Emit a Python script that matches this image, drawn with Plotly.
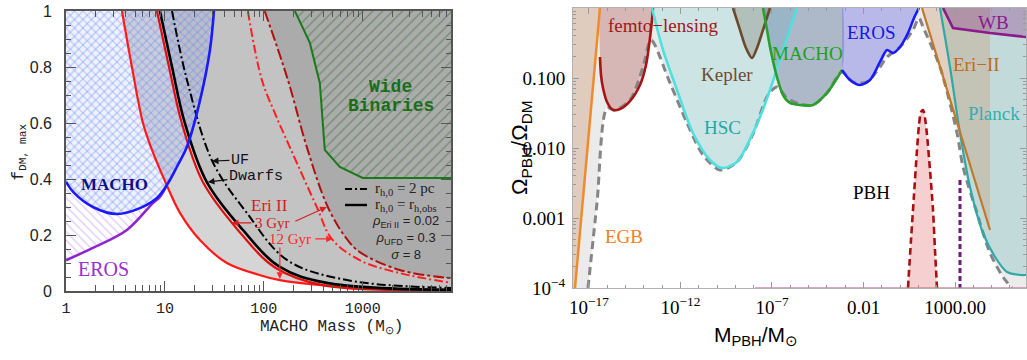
import numpy as np
import plotly.graph_objects as go

W, H = 1027, 360

# ---------------------------------------------------------------------------
# Left panel: maximum dark-matter fraction in MACHOs versus MACHO mass (M_sun)
# ---------------------------------------------------------------------------
L_MMIN, L_MMAX = 1.0, 7800.0

# Eri II, 12 Gyr, r_h,0 = r_h,obs (solid red, outermost)
eri12_obs_m = [3.68, 4.64, 6.0, 7.4, 10.2, 14.2, 22.6, 42.3, 91, 145, 934, 7800]
eri12_obs_f = [1.0, 0.8, 0.6, 0.504, 0.386, 0.279, 0.182, 0.10, 0.057, 0.039, 0.011, 0.004]
# Eri II, 3 Gyr, r_h,0 = r_h,obs (solid red next to the dwarfs curve)
eri3_obs_m = [8.3, 11.0, 14.8, 24.2, 54.6, 132, 394, 7800]
eri3_obs_f = [1.0, 0.8, 0.6, 0.389, 0.218, 0.082, 0.021, 0.004]
# Ultra-faint dwarfs, r_h,0 = r_h,obs (solid black)
uf_obs_m = [8.9, 11.8, 15.9, 26.5, 61.4, 145, 433, 7800]
uf_obs_f = [1.0, 0.8, 0.6, 0.389, 0.218, 0.086, 0.029, 0.004]
# Ultra-faint dwarfs, r_h,0 = 2 pc (dash-dot black)
uf_2pc_m = [11.8, 16.7, 30.5, 67.3, 171, 689, 7800]
uf_2pc_f = [1.0, 0.754, 0.46, 0.279, 0.111, 0.039, 0.011]
# Eri II, 12 Gyr, r_h,0 = 2 pc (dash-dot red)
eri12_2pc_m = [68.9, 95.5, 129, 183, 343, 486, 933, 2365, 7800]
eri12_2pc_f = [1.0, 0.754, 0.636, 0.514, 0.30, 0.186, 0.11, 0.064, 0.029]
# Eri II, 3 Gyr, r_h,0 = 2 pc (dashed dark red)
eri3_2pc_m = [102, 175, 272, 443, 689, 933, 2365, 7800]
eri3_2pc_f = [1.0, 0.754, 0.514, 0.30, 0.186, 0.139, 0.075, 0.046]
# Microlensing limits
macho_m = [1.0, 1.18, 1.87, 3.27, 5.59, 8.3, 10.5, 13.5, 16.7, 22.6, 28.5, 31.3]
macho_f = [0.39, 0.354, 0.30, 0.275, 0.296, 0.332, 0.379, 0.45, 0.515, 0.68, 0.86, 1.0]
eros_m = [1.0, 1.87, 4.13, 7.56, 8.9, 10.5]
eros_f = [0.11, 0.154, 0.218, 0.314, 0.336, 0.379]
# Wide binaries
wb_m = [206, 292, 368, 413, 586, 1000, 7800]
wb_f = [1.0, 0.886, 0.743, 0.504, 0.443, 0.404, 0.404]

# ---------------------------------------------------------------------------
# Right panel: Omega_PBH / Omega_DM versus M_PBH / M_sun (log10 values)
# ---------------------------------------------------------------------------
R_LM_MIN, R_LM_MAX = -17.874, 6.88
R_LO_MIN, R_LO_MAX = -4.0, 0.0

egb_lm = [-17.765, -16.399]
egb_lo = [-4.0, 0.0]

env_lm = [-17.055, -16.563, -16.016, -15.579, -14.760, -14.049, -13.612, -12.574, -11.645,
          -10.770, -9.842, -8.913, -8.038, -7.219, -6.727, -6.180, -5.470, -4.760, -3.995,
          -3.175, -2.574, -1.809, -1.098, -0.716, -0.005, 0.705, 1.033, 1.251, 2.180, 3.109,
          3.437, 4.202, 4.913, 5.623, 6.115]
env_lo = [-4.0, -2.786, -1.429, -1.457, -1.314, -0.843, -0.457, -1.071, -1.643,
          -2.100, -2.314, -2.200, -1.800, -1.243, -1.129, -1.286, -1.371, -1.386, -1.214,
          -0.914, -1.057, -1.057, -0.843, -0.700, -0.557, -0.314, -0.143, -0.271, -0.843, -1.786,
          -2.271, -2.929, -3.500, -3.843, -4.0]

femto_lm = [-16.399, -16.344, -16.235, -16.016, -15.689, -15.306, -14.760, -14.213, -13.885,
            -13.667, -13.557, -13.503]
femto_lo = [-0.700, -0.957, -1.143, -1.343, -1.457, -1.443, -1.329, -1.100, -0.814,
            -0.429, -0.171, 0.0]

hsc_lm = [-13.557, -12.956, -12.191, -11.317, -10.388, -9.732, -8.913, -8.038, -7.656,
          -7.109, -6.399, -5.634]
hsc_lo = [0.0, -0.6, -1.171, -1.786, -2.171, -2.286, -2.2, -1.786, -1.557, -1.171, -0.6, 0.0]

kepler_lm = [-9.131, -8.749, -8.421, -8.093, -7.820, -7.492, -7.109]
kepler_lo = [0.0, -0.314, -0.571, -0.714, -0.571, -0.314, 0.0]

macho_r_lm = [-7.492, -7.273, -7.109, -6.727, -6.399, -6.016, -5.470, -4.760, -3.995, -3.175]
macho_r_lo = [0.0, -0.314, -0.557, -0.986, -1.243, -1.357, -1.386, -1.386, -1.214, -0.886]

eros_r_lm = [-3.175, -2.738, -2.191, -1.645, -1.098, -0.716, -0.388, -0.005, 0.432, 0.760, 1.033]
eros_r_lo = [-0.886, -1.029, -1.100, -1.029, -0.771, -0.600, -0.643, -0.557, -0.357, -0.143, 0.0]

eri_r_lm = [1.197, 4.913]
eri_r_lo = [0.0, -3.171]

planck_lm = [2.180, 2.727, 3.273, 3.820, 4.530, 5.295, 5.842, 6.552, 6.88]
planck_lo = [0.0, -0.843, -1.786, -2.557, -3.214, -3.600, -3.771, -3.814, -3.814]

wb_r_lm = [2.344, 2.617, 2.891, 4.913, 6.88]
wb_r_lo = [0.0, -0.143, -0.286, -0.357, -0.414]

pbh_lm = [0.432, 0.596, 0.760, 0.923, 1.033, 1.142, 1.251, 1.361, 1.470, 1.634, 1.798, 1.907, 2.016]
pbh_lo = [-4.0, -3.314, -2.671, -2.029, -1.671, -1.486, -1.457, -1.571, -1.814, -2.314, -2.886,
          -3.457, -4.0]

narrow_lm = [3.273, 3.273]
narrow_lo = [-2.457, -4.0]

floor_lm = [-7.93, 6.88]
floor_lo = [-4.0, -4.0]


def p10(v):
    return list(10.0 ** np.asarray(v, dtype=float))


fig = go.Figure()


def add_fill(xs, ys, color, xa, ya, shape="spline", pattern=None, smoothing=1.0):
    kw = dict(x=xs, y=ys, mode="lines", fill="toself", fillcolor=color,
              line=dict(width=0, shape=shape, smoothing=smoothing),
              xaxis=xa, yaxis=ya, hoverinfo="skip", showlegend=False)
    if pattern is not None:
        kw["fillpattern"] = pattern
    fig.add_trace(go.Scatter(**kw))


def add_line(xs, ys, color, width, xa, ya, dash=None, shape="spline", smoothing=1.0):
    fig.add_trace(go.Scatter(x=xs, y=ys, mode="lines",
                             line=dict(color=color, width=width, dash=dash, shape=shape,
                                       smoothing=smoothing),
                             xaxis=xa, yaxis=ya, hoverinfo="skip", showlegend=False))


FAR = 3e4     # closure points beyond the visible mass range
TOP = 1.5     # closure points above the visible f range

# --- left: shaded exclusion regions (light to dark grey)
add_fill(eri12_obs_m + [FAR, FAR, eri12_obs_m[0]], eri12_obs_f + [eri12_obs_f[-1], TOP, TOP],
         "#d5d5d5", "x", "y")
add_fill(uf_obs_m + [FAR, FAR, uf_obs_m[0]], uf_obs_f + [uf_obs_f[-1], TOP, TOP],
         "#c3c3c3", "x", "y")
add_fill(eri3_2pc_m + [FAR, FAR, eri3_2pc_m[0]], eri3_2pc_f + [eri3_2pc_f[-1], TOP, TOP],
         "#ababab", "x", "y")
# wide binaries (hatched)
add_fill(wb_m + [FAR, FAR, 180], wb_f + [wb_f[-1], TOP, TOP], "rgba(0,0,0,0)", "x", "y",
         shape="linear",
         pattern=dict(shape="/", fgcolor="rgba(25,100,25,0.85)", bgcolor="rgba(0,0,0,0)",
                      size=7, solidity=0.18))
# EROS (hatched) and MACHO (cross-hatched)
add_fill([0.8] + eros_m + macho_m[7:] + [45, 0.8], [0.09] + eros_f + macho_f[7:] + [TOP, TOP],
         "rgba(0,0,0,0)", "x", "y",
         pattern=dict(shape="\\", fgcolor="rgba(170,100,230,0.7)", bgcolor="rgba(0,0,0,0)",
                      size=6, solidity=0.22))
add_fill([0.8] + macho_m + [45, 0.8], [0.43] + macho_f + [TOP, TOP],
         "rgba(0,0,0,0)", "x", "y",
         pattern=dict(shape="/", fgcolor="rgba(70,140,255,0.75)",
                      bgcolor="rgba(110,160,255,0.12)", size=6, solidity=0.22))

# --- left: boundary curves
add_line(eri12_obs_m, eri12_obs_f, "#ff1a1a", 2.2, "x", "y")
add_line(eri3_obs_m, eri3_obs_f, "#e01010", 2.2, "x", "y")
add_line(uf_obs_m, uf_obs_f, "#000000", 2.6, "x", "y")
add_line(uf_2pc_m, uf_2pc_f, "#000000", 2.0, "x", "y", dash="9px,3px,2px,3px")
add_line(eri12_2pc_m, eri12_2pc_f, "#ff2020", 2.0, "x", "y", dash="9px,3px,2px,3px")
add_line(eri3_2pc_m, eri3_2pc_f, "#b01010", 2.0, "x", "y", dash="11px,3px,3px,3px")
add_line(eros_m, eros_f, "#8f25d0", 2.6, "x", "y")
add_line(macho_m, macho_f, "#1a1aff", 2.6, "x", "y")
add_line(wb_m, wb_f, "#1a7a1a", 2.0, "x", "y", shape="linear")

# --- right: combined bound region, then individual constraints
RX0, RX1, RYT, RYB = -18.5, 7.5, 0.3, -4.3
add_fill(p10(env_lm + [RX1, RX1, RX0, RX0]), p10(env_lo + [RYB, RYT, RYT, RYB]),
         "#ebebeb", "x2", "y2", smoothing=0.8)
add_fill(p10(egb_lm + [-16.3, RX0, RX0, -17.8]), p10(egb_lo + [RYT, RYT, RYB, RYB]),
         "rgba(200,130,90,0.30)", "x2", "y2", shape="linear")
add_fill(p10(planck_lm + [RX1, RX1, planck_lm[0]]), p10(planck_lo + [planck_lo[-1], RYT, RYT]),
         "rgba(120,185,185,0.35)", "x2", "y2", smoothing=0.8)
add_fill(p10(eri_r_lm + [eri_r_lm[-1]]), p10(eri_r_lo + [0.0]),
         "rgba(200,140,90,0.28)", "x2", "y2", shape="linear")
add_fill(p10(wb_r_lm + [RX1, RX1, wb_r_lm[0]]), p10(wb_r_lo + [wb_r_lo[-1], RYT, RYT]),
         "rgba(140,50,140,0.33)", "x2", "y2", shape="linear")
add_fill(p10(hsc_lm), p10(hsc_lo), "rgba(140,215,215,0.32)", "x2", "y2", smoothing=0.8)
add_fill(p10(kepler_lm), p10(kepler_lo), "rgba(95,85,60,0.25)", "x2", "y2", smoothing=0.8)
add_fill(p10(macho_r_lm + [macho_r_lm[-1]]), p10(macho_r_lo + [RYT]),
         "rgba(80,110,150,0.40)", "x2", "y2", smoothing=0.8)
add_fill(p10(eros_r_lm + [1.3, eros_r_lm[0]]), p10(eros_r_lo + [RYT, RYT]),
         "rgba(110,110,230,0.40)", "x2", "y2", smoothing=0.8)
add_fill(p10(femto_lm + [-16.5]), p10(femto_lo + [RYT]),
         "rgba(170,60,60,0.30)", "x2", "y2", smoothing=0.8)
add_fill(p10(pbh_lm), p10(pbh_lo), "rgba(230,120,120,0.35)", "x2", "y2", smoothing=0.8)

add_line(p10(env_lm), p10(env_lo), "#858585", 3.0, "x2", "y2", dash="8px,5px", smoothing=0.8)
add_line(p10(egb_lm), p10(egb_lo), "#f08a2a", 2.5, "x2", "y2", shape="linear")
add_line(p10(femto_lm), p10(femto_lo), "#a51515", 2.6, "x2", "y2", smoothing=0.8)
add_line(p10(hsc_lm), p10(hsc_lo), "#4fe0e0", 2.6, "x2", "y2", smoothing=0.8)
add_line(p10(kepler_lm), p10(kepler_lo), "#6b4a2e", 2.6, "x2", "y2", smoothing=0.8)
add_line(p10(macho_r_lm), p10(macho_r_lo), "#2aa02a", 2.6, "x2", "y2", smoothing=0.8)
add_line(p10(eros_r_lm), p10(eros_r_lo), "#1a1aff", 2.6, "x2", "y2", smoothing=0.8)
add_line(p10(planck_lm), p10(planck_lo), "#30a8a8", 2.2, "x2", "y2", smoothing=0.8)
add_line(p10(eri_r_lm), p10(eri_r_lo), "#c0782a", 2.2, "x2", "y2", shape="linear")
add_line(p10(wb_r_lm), p10(wb_r_lo), "#8b1a8b", 2.6, "x2", "y2", shape="linear")
add_line(p10(pbh_lm), p10(pbh_lo), "#aa1010", 2.6, "x2", "y2", dash="7px,4px", smoothing=0.8)
add_line(p10(narrow_lm), p10(narrow_lo), "#6a1a7a", 3.0, "x2", "y2", dash="5px,3px",
         shape="linear")
add_line(p10(floor_lm), p10(floor_lo), "rgba(205,130,150,0.9)", 1.5, "x2", "y2", shape="linear")

# ---------------------------------------------------------------------------
# Axes
# ---------------------------------------------------------------------------
LEFT_DOM_X = [66 / W, 451 / W]
LEFT_DOM_Y = [1 - 291 / H, 1 - 11 / H]
RIGHT_DOM_X = [573 / W, 1026 / W]
RIGHT_DOM_Y = [1 - 288 / H, 1 - 8 / H]

left_minor_x = [k * 10 ** d for d in range(0, 4) for k in range(2, 10) if k * 10 ** d < L_MMAX]
right_minor_y = [k * 10.0 ** d for d in range(-4, 0) for k in range(2, 10)]
right_minor_x = [10.0 ** d for d in range(-17, 7)]

fig.update_layout(
    width=W, height=H, margin=dict(l=0, r=0, t=0, b=0, autoexpand=False),
    paper_bgcolor="white", plot_bgcolor="white", showlegend=False,
    xaxis=dict(domain=LEFT_DOM_X, type="log", range=[np.log10(L_MMIN), np.log10(L_MMAX)],
               tickvals=[1, 10, 100, 1000], ticktext=["1", "10", "100", "1000"],
               ticks="inside", ticklen=10, tickwidth=1, tickcolor="#555",
               minor=dict(tickvals=left_minor_x, ticks="inside", ticklen=6, tickcolor="#555"),
               showline=True, linecolor="#555", linewidth=1.6, mirror="allticks",
               showgrid=False, zeroline=False, ticklabelstandoff=2, automargin=False,
               tickfont=dict(family="Liberation Mono", size=15, color="#222"), anchor="y"),
    yaxis=dict(domain=LEFT_DOM_Y, range=[0, 1], tickvals=[0, 0.2, 0.4, 0.6, 0.8, 1.0],
               ticktext=["0", "0.2", "0.4", "0.6", "0.8", "1"],
               ticks="inside", ticklen=10, tickwidth=1, tickcolor="#555",
               minor=dict(dtick=0.05, ticks="inside", ticklen=5, tickcolor="#555"),
               showline=True, linecolor="#555", linewidth=1.6, mirror="allticks",
               showgrid=False, zeroline=False, ticklabelstandoff=9, automargin=False,
               tickfont=dict(family="Liberation Sans", size=16, color="#222"), anchor="x"),
    xaxis2=dict(domain=RIGHT_DOM_X, type="log", range=[R_LM_MIN, R_LM_MAX],
                tickvals=[1e-17, 1e-12, 1e-7, 1e-2, 1e3],
                ticktext=["10<sup>\u221217</sup>", "10<sup>\u221212</sup>", "10<sup>\u22127</sup>",
                          "0.01", "1000.00"],
                ticks="inside", ticklen=6, tickwidth=1, tickcolor="#9a9a9a",
                minor=dict(tickvals=right_minor_x, ticks="inside", ticklen=3, tickcolor="#9a9a9a"),
                showline=True, linecolor="#b0b0b0", linewidth=1, mirror="allticks",
                showgrid=False, zeroline=False, ticklabelstandoff=2, automargin=False,
                tickfont=dict(family="Liberation Serif", size=19, color="#000"), anchor="y2"),
    yaxis2=dict(domain=RIGHT_DOM_Y, type="log", range=[R_LO_MIN, R_LO_MAX],
                tickvals=[1e-4, 1e-3, 1e-2, 1e-1, 1],
                ticktext=["10<sup>\u22124</sup>", "0.001", "0.010", "0.100", "1"],
                ticks="inside", ticklen=6, tickwidth=1, tickcolor="#9a9a9a",
                minor=dict(tickvals=right_minor_y, ticks="inside", ticklen=3, tickcolor="#9a9a9a"),
                showline=True, linecolor="#b0b0b0", linewidth=1, mirror="allticks",
                showgrid=False, zeroline=False, ticklabelstandoff=3, automargin=False,
                tickfont=dict(family="Liberation Serif", size=19, color="#000"), anchor="x2"),
)

# ---------------------------------------------------------------------------
# Text
# ---------------------------------------------------------------------------
SERIF = "Liberation Serif"
MONO = "Liberation Mono"
SANS = "Liberation Sans"
ann = []


def txt(x, y, s, color, size, family, xref, yref, **kw):
    d = dict(x=x, y=y, text=s, showarrow=False, xref=xref, yref=yref,
             font=dict(family=family, size=size, color=color))
    d.update(kw)
    ann.append(d)


def arrow(x, y, ax, ay, color, xref="x", yref="y", s="", size=15, family=MONO):
    ann.append(dict(x=x, y=y, ax=ax, ay=ay, text=s, showarrow=True, arrowhead=2,
                    arrowsize=1.1, arrowwidth=1.2, arrowcolor=color, xref=xref, yref=yref,
                    font=dict(family=family, size=size, color=color)))


# axis titles
txt(7 / W, 1 - 152 / H, "f<sub>DM, max</sub>", "#222", 16, MONO, "paper", "paper", textangle=-90)
txt(258 / W, 1 - 339 / H, "MACHO Mass (M<sub>\u2299</sub>)", "#222", 16, MONO, "paper", "paper")
txt(521 / W, 1 - 148 / H, "\u03a9<sub>PBH</sub>/\u03a9<sub>DM</sub>", "#000", 22, SANS,
    "paper", "paper", textangle=-90)
txt(800 / W, 1 - 351 / H, "M<sub>PBH</sub>/M<sub>\u2299</sub>", "#000", 21, SANS, "paper", "paper")

# left panel labels (x in log10 mass)
txt(0.495, 0.379, "<b>MACHO</b>", "#10108a", 17, SERIF, "x", "y")
txt(0.384, 0.079, "EROS", "#9a30d0", 20, SERIF, "x", "y")
txt(3.283, 0.729, "<b>Wide</b>", "#1a6e1a", 18, MONO, "x", "y")
txt(3.283, 0.661, "<b>Binaries</b>", "#1a6e1a", 18, MONO, "x", "y")
arrow(1.475, 0.464, 28, -1, "#111", s="UF", size=15)
arrow(1.434, 0.389, 48, -6, "#111", s="Dwarfs", size=15)
txt(2.061, 0.305, "Eri II", "#d42020", 17, SERIF, "x", "y")
txt(2.091, 0.243, "3 Gyr", "#d42020", 15, SERIF, "x", "y")
arrow(1.677, 0.243, 21, 0, "#d42020")
arrow(2.636, 0.30, -33, 15, "#d42020")
txt(2.263, 0.186, "12 Gyr", "#ff2a2a", 15, SERIF, "x", "y")
arrow(2.697, 0.186, -19, 0, "#ff2a2a")
arrow(2.162, 0.043, 0, -33, "#ff2a2a")

# left legend
txt(373 / W, 1 - 189 / H, "r<sub>h,0</sub> = 2 pc", "#222", 15, SERIF, "paper", "paper",
    xanchor="left")
txt(373 / W, 1 - 205 / H, "r<sub>h,0</sub> = r<sub>h,obs</sub>", "#222", 15, SERIF, "paper",
    "paper", xanchor="left")
txt(405 / W, 1 - 237 / H,
    "<i>\u03c1</i><sub>Eri II</sub> = 0.02<br><i>\u03c1</i><sub>UFD</sub> = 0.3<br><i>\u03c3</i> = 8",
    "#222", 13, SANS, "paper", "paper", align="center")

# right panel labels (log10 coordinates)
txt(-12.956, -0.243, "femto\u2212lensing", "#a01818", 19, SERIF, "x2", "y2")
txt(-9.459, -0.957, "Kepler", "#6e4e2e", 19, SERIF, "x2", "y2")
txt(-9.732, -1.714, "HSC", "#20a8a8", 19, SERIF, "x2", "y2")
txt(-5.087, -0.643, "MACHO", "#20a020", 19, SERIF, "x2", "y2")
txt(-1.536, -0.343, "EROS", "#1818e0", 19, SERIF, "x2", "y2")
txt(5.077, -0.214, "WB", "#8b1a8b", 19, SERIF, "x2", "y2")
txt(4.202, -0.814, "Eri\u2212II", "#c06a20", 19, SERIF, "x2", "y2")
txt(5.131, -1.514, "Planck", "#30b0b0", 19, SERIF, "x2", "y2")
txt(-1.590, -2.629, "PBH", "#000", 19, SERIF, "x2", "y2")
txt(-15.087, -3.271, "EGB", "#f08020", 19, SERIF, "x2", "y2")

fig.update_layout(annotations=ann)

# legend line samples
fig.add_shape(type="line", xref="paper", yref="paper", x0=345 / W, x1=367 / W,
              y0=1 - 189 / H, y1=1 - 189 / H, line=dict(color="#000", width=2, dash="7px,3px,2px,3px"))
fig.add_shape(type="line", xref="paper", yref="paper", x0=345 / W, x1=367 / W,
              y0=1 - 205 / H, y1=1 - 205 / H, line=dict(color="#000", width=2.4))

fig.write_html("out.html")
